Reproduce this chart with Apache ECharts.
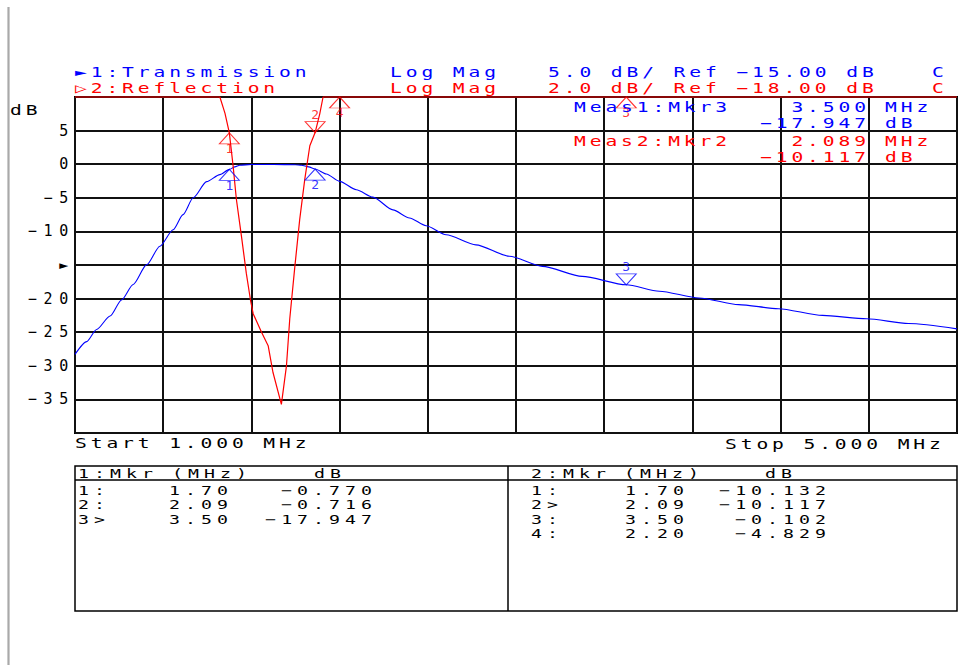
<!DOCTYPE html>
<html>
<head>
<meta charset="utf-8">
<script src="https://cdn.jsdelivr.net/npm/echarts@6/dist/echarts.min.js"></script>
<style>
  html, body { margin: 0; padding: 0; background: #fff; }
  #chart { width: 962px; height: 665px; }
  /* plotter-style wide character pitch (refined per text group below) */
  #chart text { letter-spacing: 0.52em; }
</style>
</head>
<body>
<div id="chart"></div>
<script>
// ---- sweep and channel settings ----
const startMHz = 1.0;
const stopMHz = 5.0;
const xDivisions = 10;
const yDivisions = 10;
const chanNames = ['Transmission', 'Reflection'];
const chanFormat = ['Log Mag', 'Log Mag'];
const chanScale = [5, 2];        // dB per division
const chanRef = [-15, -18];      // reference value at centre line
const chanColor = ['#0000ff', '#ff0000'];

// ---- channel 1: transmission (dB) ----
const transFreq = [1.000, 1.053, 1.098, 1.159, 1.211, 1.264, 1.325, 1.385, 1.445, 1.490,
                   1.536, 1.597, 1.657, 1.700, 1.725, 1.747, 1.800, 1.900, 2.000, 2.027,
                   2.060, 2.089, 2.140, 2.200, 2.276, 2.351, 2.442, 2.517, 2.592, 2.683,
                   2.818, 2.970, 3.120, 3.300, 3.500, 3.650, 3.830, 4.010, 4.190, 4.390,
                   4.590, 4.780, 5.000];
const transDb = [-28.3, -26.4, -24.6, -22.6, -20.2, -17.9, -14.95, -12.2, -9.75, -7.5,
                 -5.0, -2.6, -1.55, -0.770, -0.40, -0.15, -0.05, -0.05, -0.08, -0.15,
                 -0.40, -0.716, -1.45, -2.55, -3.80, -4.90, -6.80, -8.00, -9.15, -10.50,
                 -12.00, -13.70, -15.20, -16.70, -17.947, -18.90, -19.90, -20.90, -21.50, -22.50,
                 -23.00, -23.70, -24.50];

// ---- channel 2: reflection (dB) ----
const reflFreq = [1.000, 1.300, 1.500, 1.600, 1.657, 1.680, 1.700, 1.717, 1.732, 1.755,
                  1.777, 1.796, 1.808, 1.846, 1.876, 1.898, 1.936, 1.959, 1.974, 1.997,
                  2.019, 2.042, 2.065, 2.089, 2.110, 2.125, 2.200, 2.400, 2.800, 3.500,
                  4.200, 5.000];
const reflDb = [-0.3, -0.8, -2.5, -5.0, -8.0, -8.96, -10.132, -12.1, -14.1, -16.3,
                -18.5, -20.1, -20.9, -22.0, -22.8, -24.4, -26.3, -24.0, -21.2, -18.1,
                -15.3, -12.9, -10.9, -10.117, -9.0, -8.0, -4.829, -1.8, -0.6, -0.102,
                -0.1, -0.2];

// ---- markers ----
const mkr1Id = ['1', '2', '3'];
const mkr1Freq = [1.700, 2.089, 3.500];
const mkr1Db = [-0.770, -0.716, -17.947];
const mkr1Active = 2;
const mkr2Id = ['1', '2', '3', '4'];
const mkr2Freq = [1.700, 2.089, 3.500, 2.200];
const mkr2Db = [-10.132, -10.117, -0.102, -4.829];
const mkr2Active = 1;

// ---- left axis tick labels (channel 1 scale; ref level shown as arrow) ----
const yTickValues = [10, 5, 0, -5, -10, -15, -20, -25, -30, -35, -40];
const yTickLabels = ['', '5', '0', '\u22125', '\u221210', '\u25BA', '\u221220', '\u221225', '\u221230', '\u221235', ''];

// ---------------------------------------------------------------
// three font stacks so each text group can get its own pitch
const AXIS_FONT = '"DejaVu Sans Mono", "Liberation Mono", monospace';
const PANEL_FONT = '"DejaVu Sans Mono", monospace';
const MARK_FONT = '"DejaVu Sans Mono"';
const STRETCH = 1.4;                    // horizontal stretch of panel text
const PITCH = { 14: 15.7, 13: 16.0 };   // character pitch (px) per font size
const ADV = 0.602;                      // monospace advance, em
const gapFor = size => PITCH[size] / STRETCH - ADV * size;

const G = { left: 75, top: 97, width: 882, height: 336 };

const chTop = chanRef.map((r, i) => r + chanScale[i] * yDivisions / 2);
const chBot = chanRef.map((r, i) => r - chanScale[i] * yDivisions / 2);

const minus = s => s.replace(/-/g, '\u2212');

function txt(x, y, s, color, size, align) {
  // right-aligned text carries one trailing letter gap
  const dx = align === 'right' ? gapFor(size) * STRETCH : 0;
  return {
    type: 'text', x: x + dx, y: y, scaleX: STRETCH, silent: true, z: 10,
    style: { text: s, fill: color, font: size + 'px ' + PANEL_FONT,
             align: align || 'left', verticalAlign: 'middle' }
  };
}
function hline(x1, x2, y, color, w) {
  return { type: 'line', silent: true, z: 9,
           shape: { x1: x1, y1: y, x2: x2, y2: y },
           style: { stroke: color, lineWidth: w } };
}
function vline(x, y1, y2, color, w) {
  return { type: 'line', silent: true, z: 9,
           shape: { x1: x, y1: y1, x2: x, y2: y2 },
           style: { stroke: color, lineWidth: w } };
}

const MK_W = 20, MK_H = 11;
const TRI_UP = 'path://M10,0L20,11L0,11Z';
const TRI_DOWN = 'path://M0,0L20,0L10,11Z';

function markerItems(freqs, dbs, ids, active, top) {
  return freqs.map((f, i) => {
    const down = i === active;
    return {
      value: [f, Math.min(dbs[i], top)],
      symbol: down ? TRI_DOWN : TRI_UP,
      symbolOffset: [0, down ? -MK_H / 2 : MK_H / 2],
      label: { position: down ? 'top' : 'bottom', distance: down ? 0 : -2, formatter: ids[i] }
    };
  });
}

function markerSeries(freqs, dbs, ids, active, ch) {
  return {
    type: 'scatter', xAxisIndex: 0, yAxisIndex: ch, z: 6,
    symbolSize: [MK_W, MK_H],
    clip: false, silent: true,
    itemStyle: { color: 'rgba(0,0,0,0)', borderColor: chanColor[ch], borderWidth: 1 },
    label: { show: true, color: chanColor[ch], fontFamily: MARK_FONT, fontSize: 13 },
    data: markerItems(freqs, dbs, ids, active, chTop[ch])
  };
}

// ---- header, readouts, start/stop, marker tables ----
const graphics = [];
graphics.push(vline(8.5, 7, 665, '#a9a9a9', 2.2));
graphics.push(txt(10, 110, 'dB', '#000', 14));

const hdrY = [72.5, 88];
const hdrMark = ['\u25BA', '\u25B7'];
for (let c = 0; c < 2; c++) {
  graphics.push(txt(75, hdrY[c], hdrMark[c] + (c + 1) + ':' + chanNames[c], chanColor[c], 14));
  graphics.push(txt(390, hdrY[c], chanFormat[c], chanColor[c], 14));
  graphics.push(txt(548, hdrY[c], chanScale[c].toFixed(1) + ' dB/ Ref ' + minus(chanRef[c].toFixed(2)) + ' dB', chanColor[c], 14));
  graphics.push(txt(932, hdrY[c], 'C', chanColor[c], 14));
}

// active marker readouts
const readY = [[107.5, 123], [141, 157]];
const actFreq = [mkr1Freq[mkr1Active], mkr2Freq[mkr2Active]];
const actDb = [mkr1Db[mkr1Active], mkr2Db[mkr2Active]];
const actId = [mkr1Id[mkr1Active], mkr2Id[mkr2Active]];
for (let c = 0; c < 2; c++) {
  graphics.push(txt(574, readY[c][0], 'Meas' + (c + 1) + ':Mkr' + actId[c], chanColor[c], 14));
  graphics.push(txt(866, readY[c][0], actFreq[c].toFixed(3), chanColor[c], 14, 'right'));
  graphics.push(txt(885, readY[c][0], 'MHz', chanColor[c], 14));
  graphics.push(txt(866, readY[c][1], minus(actDb[c].toFixed(3)), chanColor[c], 14, 'right'));
  graphics.push(txt(885, readY[c][1], 'dB', chanColor[c], 14));
}

graphics.push(txt(75, 443.5, 'Start ' + startMHz.toFixed(3) + ' MHz', '#000', 14));
graphics.push(txt(725, 444, 'Stop ' + stopMHz.toFixed(3) + ' MHz', '#000', 14));

// marker tables
const TB = { x1: 75, x2: 957, mid: 508, y1: 466, y2: 611, hdr: 480 };
graphics.push({ type: 'rect', silent: true, z: 9,
  shape: { x: TB.x1, y: TB.y1, width: TB.x2 - TB.x1, height: TB.y2 - TB.y1 },
  style: { fill: 'none', stroke: '#000', lineWidth: 1.5 } });
graphics.push(hline(TB.x1, TB.x2, TB.hdr, '#000', 1.5));
graphics.push(vline(TB.mid, TB.y1, TB.y2, '#000', 1.5));

const tblCols = [
  { id: 78, mhzHdr: 172, dbHdr: 314, freqR: 228, dbR: 372 },
  { id: 531, mhzHdr: 624, dbHdr: 765, freqR: 684, dbR: 826 }
];
const tblMk = [
  { ids: mkr1Id, f: mkr1Freq, d: mkr1Db, act: mkr1Active },
  { ids: mkr2Id, f: mkr2Freq, d: mkr2Db, act: mkr2Active }
];
for (let c = 0; c < 2; c++) {
  const col = tblCols[c], mk = tblMk[c];
  graphics.push(txt(col.id, 473, (c + 1) + ':Mkr', '#000', 13));
  graphics.push(txt(col.mhzHdr, 473, '(MHz)', '#000', 13));
  graphics.push(txt(col.dbHdr, 473, 'dB', '#000', 13));
  mk.ids.forEach((id, i) => {
    const y = 490.5 + i * 14.3;
    graphics.push(txt(col.id, y, id + (i === mk.act ? '>' : ':'), '#000', 13));
    graphics.push(txt(col.freqR, y, mk.f[i].toFixed(2), '#000', 13, 'right'));
    graphics.push(txt(col.dbR, y, minus(mk.d[i].toFixed(3)), '#000', 13, 'right'));
  });
}

// ---- chart ----
const chart = echarts.init(document.getElementById('chart'), null, { renderer: 'svg' });
chart.setOption({
  animation: false,
  backgroundColor: '#fff',
  grid: { left: G.left, top: G.top, width: G.width, height: G.height,
          show: true, borderColor: '#000', borderWidth: 2, backgroundColor: 'transparent' },
  xAxis: [
    { type: 'value', min: startMHz, max: stopMHz,
      axisLine: { show: false }, axisTick: { show: false },
      axisLabel: { show: false }, splitLine: { show: false } },
    // graticule: one line per division
    { type: 'value', min: 0, max: xDivisions, interval: 1, position: 'bottom',
      axisLine: { show: false }, axisTick: { show: false }, axisLabel: { show: false },
      splitLine: { show: true, lineStyle: { color: '#111', width: 2 } } }
  ],
  yAxis: [
    { type: 'value', min: chBot[0], max: chTop[0], interval: chanScale[0],
      axisLine: { show: false }, axisTick: { show: false },
      axisLabel: { color: '#000', fontFamily: AXIS_FONT, fontSize: 15, margin: 0,
        formatter: v => {
          const i = yTickValues.findIndex(t => Math.abs(t - v) < 1e-6);
          return i >= 0 ? yTickLabels[i] : '';
        } },
      splitLine: { show: true, lineStyle: { color: '#111', width: 2 } } },
    { type: 'value', min: chBot[1], max: chTop[1], show: false }
  ],
  series: [
    { name: chanNames[0], type: 'line', xAxisIndex: 0, yAxisIndex: 0, z: 4,
      symbol: 'none', silent: true, clip: true,
      smooth: 0.25, smoothMonotone: 'x',
      lineStyle: { color: chanColor[0], width: 1.1 },
      data: transFreq.map((f, i) => [f, transDb[i]]) },
    // trace is pinned to the top graticule line when above full scale
    { name: chanNames[1], type: 'line', xAxisIndex: 0, yAxisIndex: 1, z: 5,
      symbol: 'none', silent: true, clip: false,
      lineStyle: { color: chanColor[1], width: 1.2 },
      data: reflFreq.map((f, i) => [f, Math.min(reflDb[i], chTop[1])]) },
    markerSeries(mkr1Freq, mkr1Db, mkr1Id, mkr1Active, 0),
    markerSeries(mkr2Freq, mkr2Db, mkr2Id, mkr2Active, 1)
  ],
  graphic: { elements: graphics }
});

// give each text group its character pitch
function applyPitch() {
  document.querySelectorAll('#chart text').forEach(t => {
    const cs = getComputedStyle(t);
    const fam = cs.fontFamily;
    const size = Math.round(parseFloat(cs.fontSize));
    if (fam.indexOf('Liberation') >= 0) {
      t.style.letterSpacing = '0.45em';
    } else if (fam.indexOf('monospace') >= 0 && PITCH[size]) {
      t.style.letterSpacing = gapFor(size).toFixed(2) + 'px';
    } else {
      t.style.letterSpacing = '0px';
    }
  });
}
applyPitch();
chart.on('finished', applyPitch);
</script>
</body>
</html>
